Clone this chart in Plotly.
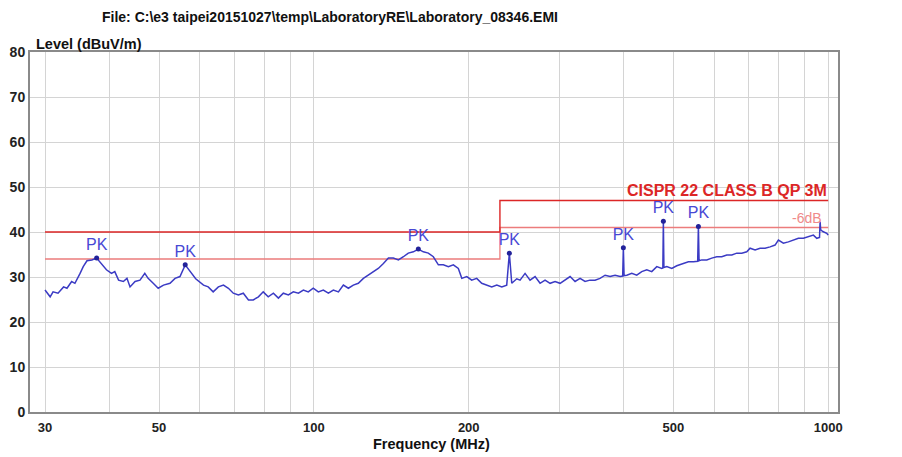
import plotly.graph_objects as go
import math

# Measured trace (frequency MHz, level dBuV/m)
freq = [30.0, 30.7, 31.1, 31.8, 32.6, 33.1, 33.8, 34.3, 35.1, 35.6, 36.2, 37.0, 37.8, 38.7, 39.5,
        40.4, 41.0, 41.7, 42.6, 43.3, 43.9, 44.9, 45.9, 46.9, 47.6, 48.7, 49.8, 51.0, 52.5, 53.7,
        54.9, 56.2, 57.4, 58.9, 61.0, 62.3, 63.7, 65.2, 66.7, 68.2, 69.7, 71.3, 72.9, 74.6, 76.2,
        78.0, 79.7, 81.5, 83.4, 85.3, 87.2, 89.2, 91.2, 93.3, 95.4, 97.5, 99.7, 102.0, 104.3, 106.7,
        109.1, 111.6, 114.1, 116.7, 119.3, 122.0, 124.8, 127.6, 130.5, 133.4, 136.5, 139.6, 142.7,
        146.0, 149.3, 152.6, 156.1, 159.6, 163.2, 166.9, 170.7, 174.6, 178.5, 182.6, 186.7, 190.9,
        193.9, 198.3, 202.7, 207.3, 212.0, 216.8, 221.7, 226.8, 231.9, 237.1, 239.9, 242.5, 248.0,
        251.7, 257.4, 263.2, 269.2, 275.3, 281.5, 287.9, 294.4, 301.1, 307.9, 314.9, 322.0, 329.3,
        336.7, 344.3, 352.1, 360.1, 368.3, 376.6, 385.1, 393.9, 398.5, 399.7, 401.0, 405.9, 415.0,
        424.4, 434.0, 443.9, 453.9, 464.2, 474.7, 477.0, 478.1, 479.3, 485.5, 496.5, 507.7, 522.9,
        534.8, 546.9, 557.5, 559.3, 561.0, 567.8, 580.7, 593.8, 607.3, 621.0, 635.1, 649.5, 664.2,
        679.2, 694.6, 704.9, 720.9, 737.2, 753.9, 771.0, 788.4, 800.2, 818.3, 836.8, 855.8, 875.2,
        895.0, 915.2, 936.0, 950.3, 962.0, 964.5, 967.0, 976.2, 993.8, 1000.0]
level = [27.1, 25.6, 26.7, 26.4, 27.8, 27.5, 29.0, 28.6, 30.8, 32.3, 33.6, 33.8, 34.2, 32.7, 31.6,
         30.8, 31.2, 29.3, 29.0, 29.7, 27.8, 29.0, 29.3, 30.8, 29.7, 28.6, 27.5, 28.2, 28.6, 29.7,
         30.1, 32.7, 31.4, 29.6, 28.2, 27.8, 26.7, 27.8, 28.2, 27.5, 26.4, 26.0, 26.4, 24.9, 24.9,
         25.6, 26.7, 25.6, 26.4, 25.3, 26.4, 26.0, 26.7, 26.4, 27.1, 26.7, 27.5, 26.7, 27.1, 26.4,
         27.1, 26.7, 28.2, 27.5, 28.2, 28.6, 29.7, 30.4, 31.2, 31.9, 33.0, 34.2, 34.2,
         33.8, 34.5, 35.3, 35.6, 36.2, 35.6, 35.3, 34.5, 32.7, 32.7, 32.3, 32.7, 31.9,
         29.7, 30.1, 29.3, 29.7, 28.6, 28.2, 27.8, 28.2, 27.8, 28.2, 35.3, 28.6, 29.6,
         29.3, 30.8, 29.3, 30.1, 28.6, 29.3, 28.6, 29.0, 28.6, 29.3, 30.1, 29.0, 29.7,
         29.0, 29.3, 29.3, 29.7, 30.4, 30.1, 30.4, 30.1, 30.2, 36.5, 30.3, 30.4, 30.8,
         30.4, 31.2, 31.6, 31.2, 32.3, 31.9, 32.0, 42.4, 32.1, 32.3, 31.9, 32.5, 33.0,
         33.4, 33.4, 33.5, 41.2, 33.6, 33.8, 33.8, 34.2, 34.5, 34.5, 34.9, 34.9, 35.3,
         35.3, 35.6, 36.4, 36.0, 36.4, 36.4, 36.7, 37.1, 38.2, 37.5, 37.8, 38.2, 38.6,
         38.6, 39.0, 39.3, 38.6, 38.8, 42.3, 40.5, 40.1, 39.7, 39.3]

# Peak markers
pk_freq = [37.8, 56.2, 159.6, 239.9, 399.7, 478.1, 559.3]
pk_level = [34.2, 32.7, 36.2, 35.3, 36.5, 42.4, 41.2]

# Limit lines
lim_freq = [30, 230, 1000]
lim_level = [40, 47, 47]
margin_level = [34, 41, 41]

x_ticks = [30, 50, 100, 200, 500, 1000]
x_grid = [40, 60, 70, 80, 90, 300, 400, 600, 700, 800, 900]
y_ticks = [0, 10, 20, 30, 40, 50, 60, 70, 80]

FONT = "Liberation Sans, Arial, sans-serif"

fig = go.Figure()
fig.add_trace(go.Scatter(x=lim_freq, y=margin_level, mode="lines", line=dict(color="#ec7c7c", width=1.3, shape="hv"),
                         hoverinfo="skip", showlegend=False))
fig.add_trace(go.Scatter(x=lim_freq, y=lim_level, mode="lines", line=dict(color="#dc2626", width=1.4, shape="hv"),
                         hoverinfo="skip", showlegend=False))
fig.add_trace(go.Scatter(x=freq, y=level, mode="lines", line=dict(color="#3b3bc4", width=1.5),
                         showlegend=False))
fig.add_trace(go.Scatter(x=pk_freq, y=pk_level, mode="markers+text", text=["PK"] * len(pk_freq),
                         textposition="top center", textfont=dict(family=FONT, size=16, color="#4848d4"),
                         marker=dict(color="#22229a", size=5), showlegend=False))

fig.update_xaxes(type="log", range=[math.log10(28.05), math.log10(1045)],
                 tickvals=x_ticks, ticktext=[str(v) for v in x_ticks],
                 tickfont=dict(family=FONT, size=13, color="#222", weight="bold"),
                 ticklabelstandoff=2, automargin=False,
                 showgrid=True, gridcolor="#d4d4d4", gridwidth=1,
                 minor=dict(tickvals=x_grid, showgrid=True, gridcolor="#d4d4d4", gridwidth=1, ticks=""),
                 showline=True, linecolor="#8a8a8a", linewidth=2, mirror=True, ticks="", zeroline=False)
fig.update_yaxes(range=[0, 80], tickvals=y_ticks, automargin=False,
                 tickfont=dict(family=FONT, size=14, color="#222", weight="bold"),
                 showgrid=True, gridcolor="#d4d4d4", gridwidth=1,
                 showline=True, linecolor="#8a8a8a", linewidth=2, mirror=True, ticks="", zeroline=False)

# Page has an 8px body margin: plot area on screen at x 30..838, y 52..412
OFF = 8
W, H = 902, 457
SL, SR, ST, SB = 30, 838, 52, 412
L, T = SL - OFF, ST - OFF
R = W - (SR - OFF)
B = H - (SB - OFF)


def px(x):
    return (x - SL) / (SR - SL)


def py(y):
    return (SB - y) / (SB - ST)


ann = [
    dict(text="<b>File: C:\\e3 taipei20151027\\temp\\LaboratoryRE\\Laboratory_08346.EMI</b>", x=px(100), y=py(17),
         xanchor="left", yanchor="middle", font=dict(family=FONT, size=14, color="#111")),
    dict(text="<b>Level (dBuV/m)</b>", x=px(34), y=py(44), xanchor="left", yanchor="middle",
         font=dict(family=FONT, size=14.5, color="#111")),
    dict(text="<b>Frequency (MHz)</b>", x=px(431), y=py(444), xanchor="center", yanchor="middle",
         font=dict(family=FONT, size=14.5, color="#111")),
    dict(text="<b>CISPR 22 CLASS B QP 3M</b>", x=px(829), y=py(190), xanchor="right", yanchor="middle",
         font=dict(family=FONT, size=16, color="#dc2626")),
    dict(text="-6dB", x=px(824), y=py(218), xanchor="right", yanchor="middle",
         font=dict(family=FONT, size=14, color="#f08a8a")),
]
for a in ann:
    a.update(xref="paper", yref="paper", showarrow=False)

fig.update_layout(width=W, height=H, margin=dict(l=L, r=R, t=T, b=B, pad=0, autoexpand=False),
                  paper_bgcolor="white", plot_bgcolor="white", annotations=ann,
                  font=dict(family=FONT))
fig.write_html("out.html")
